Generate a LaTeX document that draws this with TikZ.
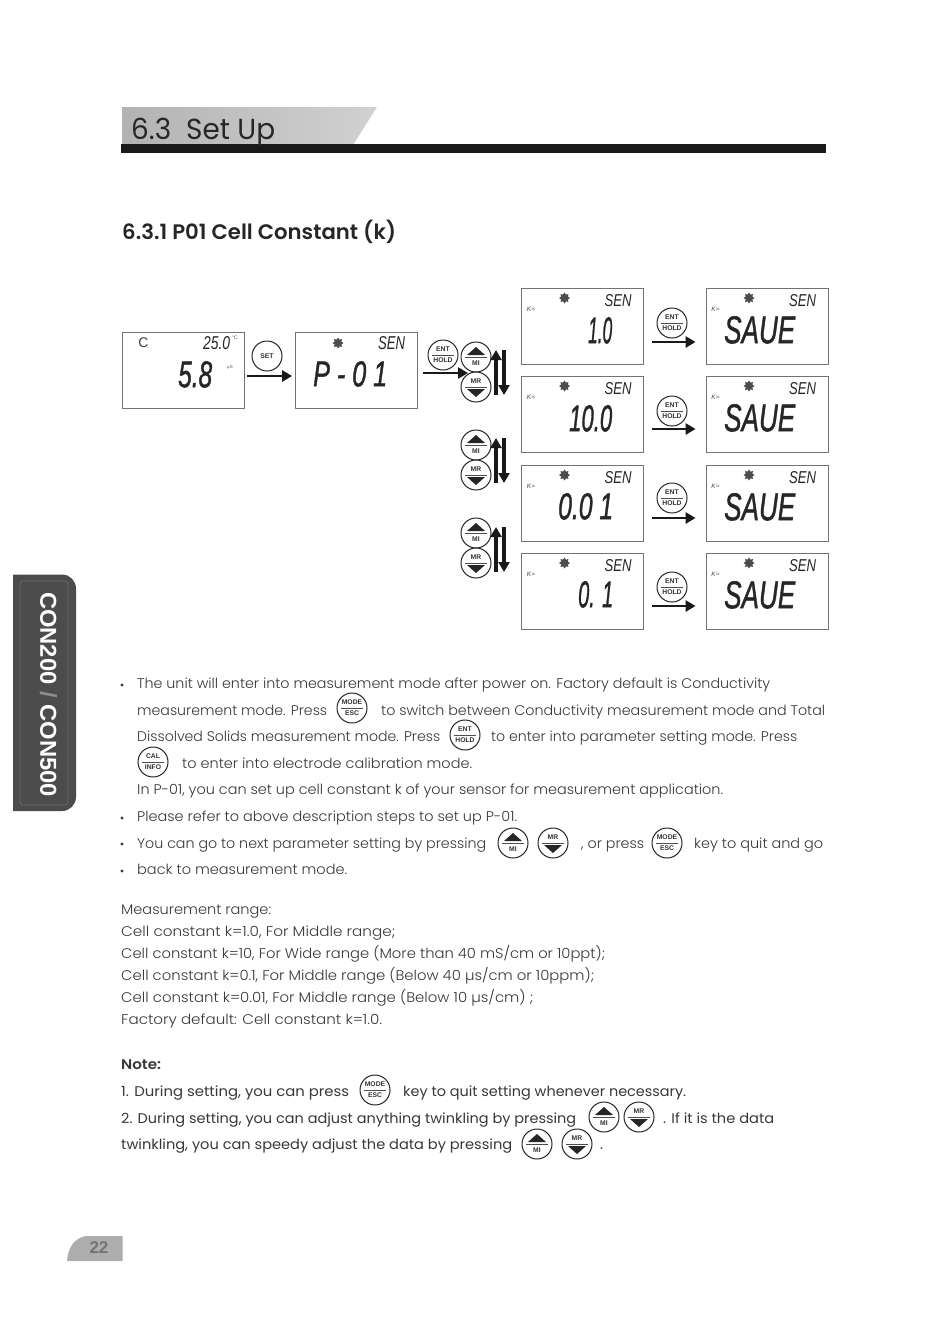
\documentclass[tikz,border=0pt]{standalone}
\usepackage{graphicx}
\usepackage{fontspec}
\setmainfont{Poppins Light}
\newfontfamily\regf{Poppins}
\newfontfamily\boldf{Poppins SemiBold}
\newfontfamily\hv{Liberation Sans}
\newfontfamily\lcdbig[FakeBold=1.4]{Liberation Sans Italic}
\usetikzlibrary{arrows.meta,shapes.geometric}
\definecolor{ink}{gray}{0.22}
\tikzset{
 lcdbox/.style={draw=black!55,line width=0.8pt,fill=white,inner sep=0,minimum width=122pt,minimum height=76pt},
 btn/.style={circle,draw=black!85,line width=1pt,fill=white,inner sep=0},
 btnlab/.style={inner sep=0,font=\hv\bfseries\fontsize{6.8}{6}\selectfont,text=black!80},
 flow/.style={line width=2.8pt,-{Triangle[length=10pt,width=11pt]},black!90},
 updown/.style={line width=3.2pt,-{Triangle[length=10pt,width=11pt]},black!90},
 lcdt/.style={inner sep=0,anchor=north west,text=black!85},
 body/.style={inner sep=0,anchor=base west,text=ink},
 gear/.style={star,star points=8,star point ratio=1.5,fill=black!70,minimum size=11pt,inner sep=0},
 tiny/.style={inner sep=0,font=\hv\itshape\fontsize{6.5}{6}\selectfont,text=black!70},
}
% LCD text: name,x,y,w,h,text
\newcommand\lcd[6]{\node[lcdt] (#1) at (#2,#3) {\resizebox{#4pt}{#5pt}{\hv\itshape #6}};}
\newcommand\lcdB[6]{\node[lcdt] (#1) at (#2,#3) {\resizebox{#4pt}{#5pt}{\lcdbig #6}};}
% body text line: name,x,center y,width,text
\newcommand\tl[5]{\node[body] (#1) at (#2,#3+5) {\resizebox{#4pt}{\height}{\fontsize{14}{16}\selectfont #5}};}
\newcommand\tlr[5]{\node[body] (#1) at (#2,#3+5) {\resizebox{#4pt}{\height}{\regf\fontsize{14}{16}\selectfont #5}};}
\newcommand\tlb[5]{\node[body] (#1) at (#2,#3+5) {\resizebox{#4pt}{\height}{\boldf\fontsize{14}{16}\selectfont #5}};}
\newcommand\bul[2]{\node[inner sep=0,circle,fill=ink,minimum size=3.4pt] (#1) at (122,#2) {};}
% buttons
\newcommand\btnT[5]{\node[btn,minimum size=30pt] (#1) at (#2,#3) {};
 \draw[black!70,line width=.6pt] ([xshift=-11pt]#1.center) -- ([xshift=11pt]#1.center);
 \node[btnlab] (#1-t) at ([yshift=5.5pt]#1.center) {#4};
 \node[btnlab] (#1-b) at ([yshift=-5.5pt]#1.center) {#5};}
\newcommand\btnMI[3]{\node[btn,minimum size=30pt] (#1) at (#2,#3) {};
 \draw[black!70,line width=.6pt] ([xshift=-11pt]#1.center) -- ([xshift=11pt]#1.center);
 \fill[black!85] ([xshift=-9pt,yshift=2pt]#1.center) -- ([xshift=9pt,yshift=2pt]#1.center) -- ([yshift=10pt]#1.center) -- cycle;
 \node[btnlab] (#1-b) at ([yshift=-6pt]#1.center) {MI};}
\newcommand\btnMR[3]{\node[btn,minimum size=30pt] (#1) at (#2,#3) {};
 \draw[black!70,line width=.6pt] ([xshift=-11pt]#1.center) -- ([xshift=11pt]#1.center);
 \fill[black!85] ([xshift=-9pt,yshift=-2pt]#1.center) -- ([xshift=9pt,yshift=-2pt]#1.center) -- ([yshift=-10pt]#1.center) -- cycle;
 \node[btnlab] (#1-t) at ([yshift=6pt]#1.center) {MR};}
% right-hand box: prefix, left x, top y, gear offset
\newcommand\rbox[4]{\node[lcdbox] (#1) at (#2+61,#3+38) {};
 \node[gear] (#1-g) at (#2+#4,#3+10) {};
 \lcd{#1-s}{#2+83}{#3+6}{27}{12}{SEN}
 \node[tiny] (#1-k) at (#2+9.5,#3+21) {K=};}
\begin{document}
\begin{tikzpicture}[x=1pt,y=-1pt]
\useasboundingbox (0,0) rectangle (950,1344);
\fill[white] (0,0) rectangle (950,1344);
% heading
\path[left color=black!30,right color=black!18] (122,107) -- (377,107) -- (353,145) -- (122,145) -- cycle;
\node[fill=black!90,inner sep=0,minimum width=705pt,minimum height=9pt,anchor=north west] (bar) at (121,144) {};
\node[body] (h1) at (131,139) {\resizebox{144pt}{\height}{\regf\fontsize{29}{30}\selectfont\color{black!85}6.3\ \ Set Up}};
\node[body] (h2) at (122,239) {\resizebox{274pt}{\height}{\boldf\fontsize{21}{24}\selectfont\color{black!85}6.3.1 P01 Cell Constant (k)}};
% side tab
\fill[black!70] (13,574.5) -- (62,574.5) arc[start angle=90,end angle=0,radius=14pt] -- (76,797) arc[start angle=0,end angle=-90,radius=14pt] -- (13,811) -- cycle;
\draw[black!58,line width=.8pt,rounded corners=3pt] (20,581) rectangle (68,805);
\node[rotate=-90,inner sep=0,text=white] (tab) at (48.5,694.5) {\resizebox{205pt}{\height}{\hv\bfseries\fontsize{23}{24}\selectfont CON200 {\color{black!45}/} CON500}};
% first row boxes
\node[lcdbox] (b1) at (183,370) {};
\node[lcdbox] (b2) at (356.5,370) {};
\node[inner sep=0,font=\hv\fontsize{14}{14}\selectfont,text=black!75] (b1c) at (143.5,343) {C};
\lcd{b1t}{203}{336}{27}{13}{25.0}
\node[inner sep=0,font=\hv\fontsize{5}{5}\selectfont,text=black!75] (b1d) at (235,338) {°C};
\lcdB{b1v}{178}{361}{34}{26}{5.8}
\node[inner sep=0,font=\hv\fontsize{4.5}{5}\selectfont,text=black!65] (b1u) at (230,367) {µS};
\node[gear] (b2g) at (338,343) {};
\lcd{b2s}{378}{336}{27}{13}{SEN}
\lcdB{b2v}{313}{361}{74}{25}{P - 0 1}
% right boxes
\rbox{c1}{521.5}{288}{43}
\rbox{s1}{706}{288}{43}
\rbox{c2}{521.5}{376}{43}
\rbox{s2}{706}{376}{43}
\rbox{c3}{521.5}{465}{43}
\rbox{s3}{706}{465}{43}
\rbox{c4}{521.5}{553}{43}
\rbox{s4}{706}{553}{43}
\lcdB{c1v}{588}{317}{24}{26}{1.0}
\lcdB{c2v}{569}{405}{43}{26}{10.0}
\lcdB{c3v}{558}{493}{55}{26}{0.0 1}
\lcdB{c4v}{578}{581}{35}{26}{0. 1}
\lcdB{s1v}{724}{316}{71}{27}{SAUE}
\lcdB{s2v}{724}{404}{71}{27}{SAUE}
\lcdB{s3v}{724}{493}{71}{27}{SAUE}
\lcdB{s4v}{724}{581}{71}{27}{SAUE}
% diagram buttons
\node[btn,minimum size=30pt,btnlab] (set) at (267,356) {SET};
\btnT{e0}{443}{355}{ENT}{HOLD}
\btnMI{mi1}{476}{357}
\btnMR{mr1}{476}{387}
\btnMI{mi2}{476}{445}
\btnMR{mr2}{476}{475}
\btnMI{mi3}{476}{533}
\btnMR{mr3}{476}{563}
\btnT{e1}{672}{323}{ENT}{HOLD}
\btnT{e2}{672}{411}{ENT}{HOLD}
\btnT{e3}{672}{498}{ENT}{HOLD}
\btnT{e4}{672}{587}{ENT}{HOLD}
% connectors
\coordinate (j1) at (468,373);
\coordinate (u1a) at (496,395); \coordinate (u1b) at (496,350);
\coordinate (d1a) at (504,350); \coordinate (d1b) at (504,395);
\coordinate (u2a) at (496,483); \coordinate (u2b) at (496,438);
\coordinate (d2a) at (504,438); \coordinate (d2b) at (504,483);
\coordinate (u3a) at (496,572); \coordinate (u3b) at (496,527);
\coordinate (d3a) at (504,527); \coordinate (d3b) at (504,572);
\draw[flow,shorten <=3pt,shorten >=3pt] ([yshift=-6pt]b1.east) -- ([yshift=-6pt]b2.west);
\draw[flow,shorten <=5pt] ([yshift=-3pt]b2.east) -- (j1);
\foreach \i/\sh in {1/-16,2/-15,3/-15,4/-15}{
 \draw[flow,shorten <=8pt,shorten >=10pt] ([yshift=\sh pt]c\i.east) -- ([yshift=\sh pt]s\i.west);
}
\foreach \i in {1,2,3}{
 \draw[updown] (u\i a) -- (u\i b);
 \draw[updown] (d\i a) -- (d\i b);
}
% text
\bul{p1}{685}
\tl{l1}{137}{683}{633}{The unit will enter into measurement mode after power on. Factory default is Conductivity}
\tl{l2a}{137}{710}{190}{measurement mode. Press}
\btnT{k1}{352}{708}{MODE}{ESC}
\tl{l2b}{381}{710}{444}{to switch between Conductivity measurement mode and Total}
\tl{l3a}{137}{736}{303}{Dissolved Solids measurement mode. Press}
\btnT{k2}{465}{735}{ENT}{HOLD}
\tl{l3b}{491}{736}{306}{to enter into parameter setting mode. Press}
\btnT{k3}{153}{762}{CAL}{INFO}
\tl{l4}{182}{763}{290}{to enter into electrode calibration mode.}
\tl{l5}{137}{789}{586}{In P-01, you can set up cell constant k of your sensor for measurement application.}
\bul{p2}{818}
\tl{l6}{137}{816}{380}{Please refer to above description steps to set up P-01.}
\bul{p3}{844}
\tl{l7a}{137}{843}{349}{You can go to next parameter setting by pressing}
\btnMI{k4}{513}{843}
\btnMR{k5}{553}{843}
\tl{l7b}{581}{843}{63}{, or press}
\btnT{k6}{667}{843}{MODE}{ESC}
\tl{l7c}{694}{843}{129}{key to quit and go}
\bul{p4}{871}
\tl{l8}{137}{869}{210}{back to measurement mode.}
\tl{m1}{121}{909}{150}{Measurement range:}
\tl{m2}{121}{931}{274}{Cell constant k=1.0, For Middle range;}
\tl{m3}{121}{953}{484}{Cell constant k=10, For Wide range (More than 40 mS/cm or 10ppt);}
\tl{m4}{121}{975}{473}{Cell constant k=0.1, For Middle range (Below 40 µs/cm or 10ppm);}
\tl{m5}{121}{997}{412}{Cell constant k=0.01, For Middle range (Below 10 µs/cm) ;}
\tl{m6}{121}{1019}{261}{Factory default: Cell constant k=1.0.}
\tlb{n0}{121}{1064}{40}{Note:}
\tlr{n1a}{121}{1091}{228}{1. During setting, you can press}
\btnT{k7}{375}{1090}{MODE}{ESC}
\tlr{n1b}{403}{1091}{283}{key to quit setting whenever necessary.}
\tlr{n2a}{121}{1118}{455}{2. During setting, you can adjust anything twinkling by pressing}
\btnMI{k8}{604}{1117}
\btnMR{k9}{639}{1117}
\tlr{n2b}{663}{1118}{111}{. If it is the data}
\tlr{n3a}{121}{1144}{391}{twinkling, you can speedy adjust the data by pressing}
\btnMI{k10}{537}{1144}
\btnMR{k11}{577}{1144}
\tlr{n3b}{600}{1144}{3}{.}
% page number
\fill[black!32] (67,1261) .. controls (68,1248) and (74,1238) .. (86,1236) -- (122.5,1236) -- (122.5,1261) -- cycle;
\node[inner sep=0,text=black!55] (pg) at (99,1248) {\hv\bfseries\fontsize{17}{18}\selectfont 22};
\end{tikzpicture}
\end{document}
